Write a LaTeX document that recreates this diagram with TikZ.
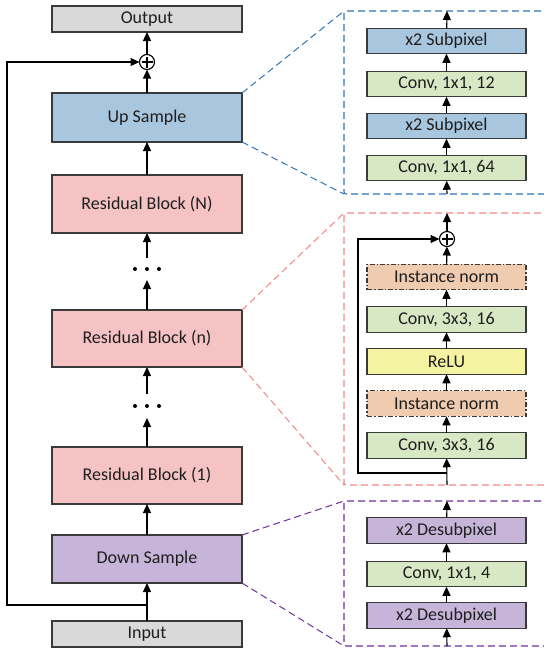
\documentclass[tikz,border=0pt]{standalone}
\usepackage{fontspec}
\setmainfont{Carlito}
\usetikzlibrary{arrows.meta}

\definecolor{txt}{HTML}{1E1E1E}
\definecolor{edge}{HTML}{3A3A3A}
\definecolor{grayfill}{HTML}{D9D9D9}
\definecolor{bluefill}{HTML}{A9C6DF}
\definecolor{pinkfill}{HTML}{F5C3C3}
\definecolor{purplefill}{HTML}{C7B5D9}
\definecolor{greenfill}{HTML}{D8E8C5}
\definecolor{yellowfill}{HTML}{F4F3A2}
\definecolor{peachfill}{HTML}{EFCBAF}
\definecolor{bluedash}{HTML}{2E75B6}
\definecolor{reddash}{HTML}{F28585}
\definecolor{purpledash}{HTML}{7030A0}

\tikzset{
  blk/.style={draw=edge, line width=1.1pt, inner sep=0pt, outer sep=0pt,
    text=txt, font=\fontsize{18}{20}\selectfont},
  mainblk/.style={blk, minimum width=190pt},
  subblk/.style={blk, minimum width=159pt, minimum height=25.5pt},
  normblk/.style={subblk, fill=peachfill,
    dash pattern=on 5pt off 2pt on 1.5pt off 2pt},
  arr/.style={draw=black, line width=1.1pt,
    -{Triangle[length=9pt,width=8pt]}},
  adder/.style={circle, draw=black, fill=white, line width=1.1pt,
    minimum size=15pt, inner sep=0pt, outer sep=0pt,
    path picture={
      \draw[line width=1.6pt] ([yshift=-5.5pt]path picture bounding box.center)
        -- ([yshift=5.5pt]path picture bounding box.center);
      \draw[line width=1.6pt] ([xshift=-5.5pt]path picture bounding box.center)
        -- ([xshift=5.5pt]path picture bounding box.center);}},
  panel/.style={line width=1.1pt, dash pattern=on 7pt off 4pt, rounded corners=2pt},
  link/.style={line width=1pt, dash pattern=on 7pt off 4pt},
  gap/.style={minimum width=30pt, inner sep=0pt, outer sep=0pt}
}

\begin{document}
\begin{tikzpicture}[x=1pt, y=-1pt]
\useasboundingbox (0,0) rectangle (544,649);

% ---------- main column ----------
\node[mainblk, fill=grayfill, minimum height=26pt] (out) at (147,19) {Output};
\node[adder] (plus) at (147,62) {};
\node[mainblk, fill=bluefill, minimum height=49pt] (up) at (147,117.5) {Up Sample};
\node[mainblk, fill=pinkfill, minimum height=58pt] (resN) at (147,204) {Residual Block (N)};
\node[gap, minimum height=22pt] (dotsB) at (147,269) {};
\node[mainblk, fill=pinkfill, minimum height=57pt] (resn) at (147,338.5) {Residual Block (n)};
\node[gap, minimum height=24pt] (dotsA) at (147,406) {};
\node[mainblk, fill=pinkfill, minimum height=57pt] (res1) at (147,475.5) {Residual Block (1)};
\node[mainblk, fill=purplefill, minimum height=48pt] (down) at (147,559) {Down Sample};
\node[mainblk, fill=grayfill, minimum height=26pt] (in) at (147,634) {Input};

% ellipsis dots
\foreach \yy in {269,406}
  \foreach \xx in {135,147,159}
    \fill (\xx,\yy) circle (2pt);

\draw[arr] (in) -- (down);
\draw[arr] (down) -- (res1);
\draw[arr] (res1) -- (dotsA.south);
\draw[arr] (dotsA.north) -- (resn.south);
\draw[arr] (resn) -- (dotsB.south);
\draw[arr] (dotsB.north) -- (resN.south);
\draw[arr] (resN) -- (up);
\draw[arr] (up) -- (plus);
\draw[arr] (plus) -- (out);

% global skip connection
\coordinate (gjunc) at (147,605);
\coordinate (gskip) at (7,605);
\draw[arr] (gjunc) -- (gskip) |- (plus.west);

% ---------- up-sampling detail ----------
\coordinate (uTL) at (344,11);
\coordinate (uBL) at (344,194);
\draw[panel, draw=bluedash] (552,11) -- (uTL) -- (uBL) -- (552,194);
\draw[link, draw=bluedash] (up.north east) -- (uTL);
\draw[link, draw=bluedash] (up.south east) -- (uBL);
\coordinate (uTop) at (447,11);
\coordinate (uBot) at (447,194);
\node[subblk, fill=bluefill] (u4) at (446.5,41) {x2 Subpixel};
\node[subblk, fill=greenfill] (u3) at (446.5,84) {Conv, 1x1, 12};
\node[subblk, fill=bluefill] (u2) at (446.5,126) {x2 Subpixel};
\node[subblk, fill=greenfill] (u1) at (446.5,168) {Conv, 1x1, 64};
\draw[arr] (uBot) -- (u1);
\draw[arr] (u1) -- (u2);
\draw[arr] (u2) -- (u3);
\draw[arr] (u3) -- (u4);
\draw[arr] (u4) -- (uTop);

% ---------- residual block detail ----------
\coordinate (rTL) at (344,213);
\coordinate (rBL) at (344,485);
\draw[panel, draw=reddash] (552,213) -- (rTL) -- (rBL) -- (552,485);
\draw[link, draw=reddash] (resn.north east) -- (rTL);
\draw[link, draw=reddash] (resn.south east) -- (rBL);
\coordinate (rTop) at (447,213);
\coordinate (rBot) at (447,485);
\node[adder] (rplus) at (447,239) {};
\node[normblk] (r5) at (446.5,277) {Instance norm};
\node[subblk, fill=greenfill] (r4) at (446.5,319.5) {Conv, 3x3, 16};
\node[subblk, fill=yellowfill] (r3) at (446.5,361.5) {ReLU};
\node[normblk] (r2) at (446.5,403.5) {Instance norm};
\node[subblk, fill=greenfill] (r1) at (446.5,445.5) {Conv, 3x3, 16};
\draw[arr] (rBot) -- (r1);
\draw[arr] (r1) -- (r2);
\draw[arr] (r2) -- (r3);
\draw[arr] (r3) -- (r4);
\draw[arr] (r4) -- (r5);
\draw[arr] (r5) -- (rplus);
\draw[arr] (rplus) -- (rTop);
\coordinate (rjunc) at (447,473);
\coordinate (rskip) at (358,473);
\draw[arr] (rjunc) -- (rskip) |- (rplus.west);

% ---------- down-sampling detail ----------
\coordinate (dTL) at (344,501);
\coordinate (dBL) at (344,646);
\draw[panel, draw=purpledash] (552,501) -- (dTL) -- (dBL) -- (552,646);
\draw[link, draw=purpledash] (down.north east) -- (dTL);
\draw[link, draw=purpledash] (down.south east) -- (dBL);
\coordinate (dTop) at (447,501);
\coordinate (dBot) at (447,646);
\node[subblk, fill=purplefill] (d3) at (446.5,530.5) {x2 Desubpixel};
\node[subblk, fill=greenfill] (d2) at (446.5,574) {Conv, 1x1, 4};
\node[subblk, fill=purplefill] (d1) at (446.5,615.5) {x2 Desubpixel};
\draw[arr] (dBot) -- (d1);
\draw[arr] (d1) -- (d2);
\draw[arr] (d2) -- (d3);
\draw[arr] (d3) -- (dTop);
\end{tikzpicture}
\end{document}
